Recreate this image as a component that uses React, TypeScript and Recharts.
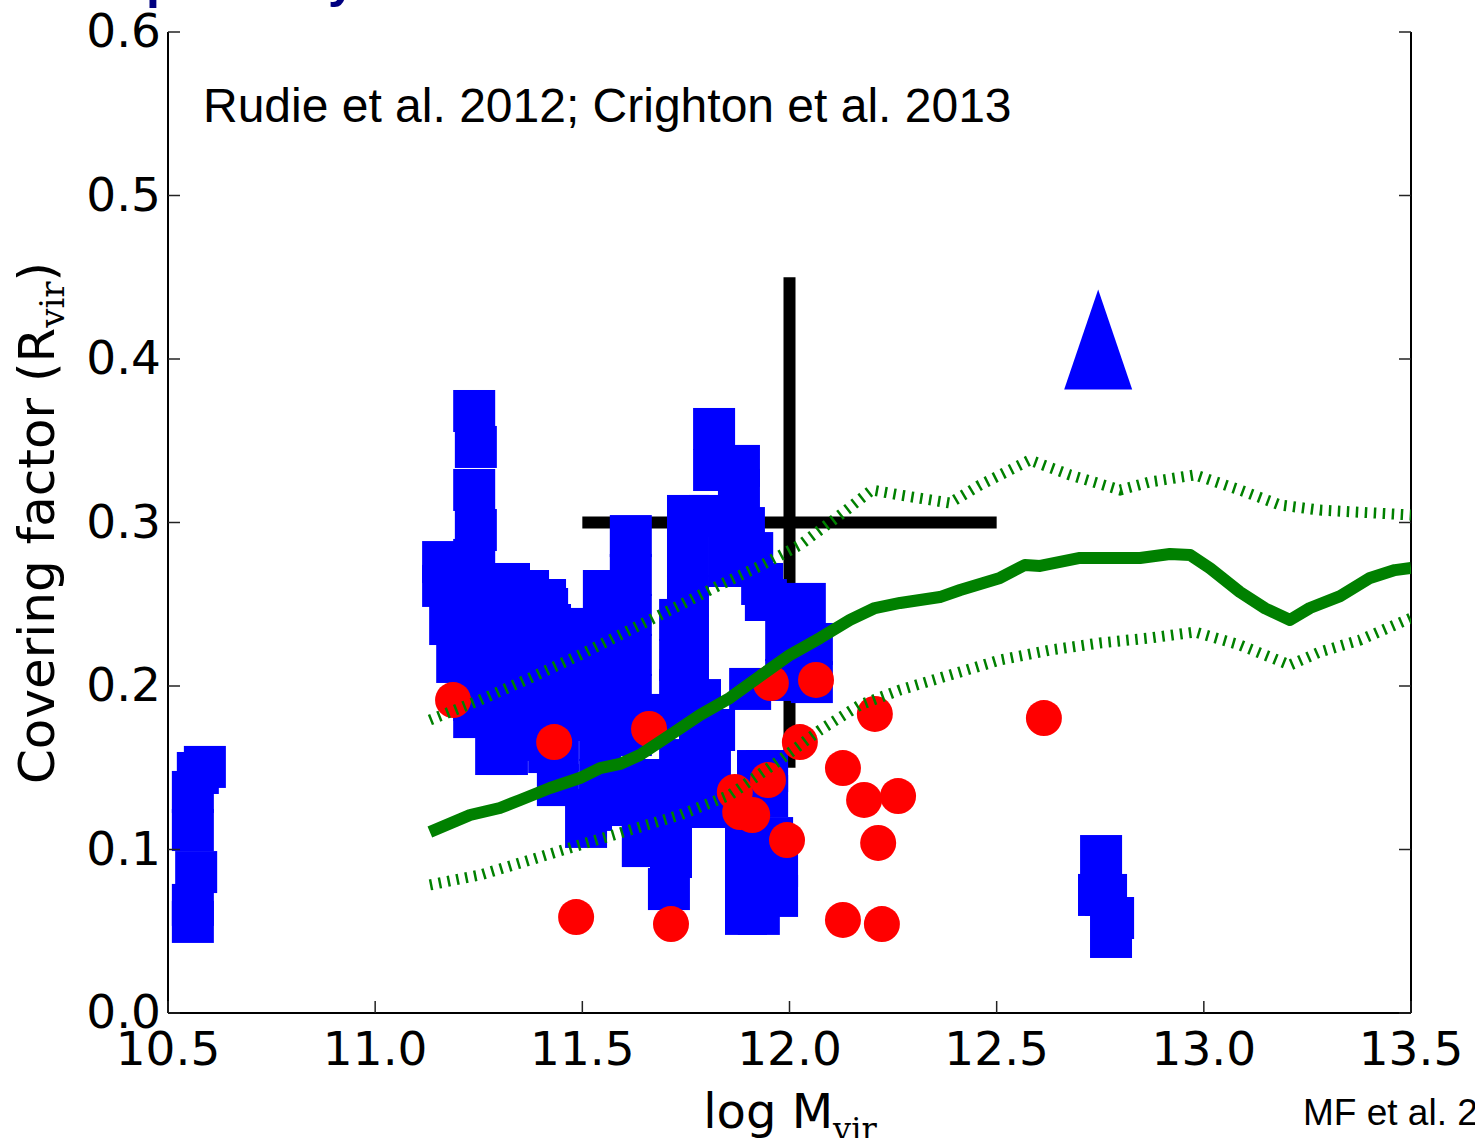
import React from 'react';
import { ComposedChart, XAxis, YAxis, Scatter, Line, ErrorBar, Customized } from 'recharts';

// ---------- data (log Mvir, covering factor) ----------
const X_TICKS = [10.5, 11.0, 11.5, 12.0, 12.5, 13.0, 13.5];
const Y_TICKS = [0.0, 0.1, 0.2, 0.3, 0.4, 0.5, 0.6];

// simulated haloes (blue squares)
const BLUE_SQUARES: [number, number][] = [
  // low-mass column
  [10.589, 0.1505], [10.572, 0.1468], [10.56, 0.1352], [10.56, 0.1119], [10.568, 0.0862], [10.56, 0.0661], [10.56, 0.0557],
  // high-mass group
  [12.752, 0.096], [12.747, 0.0722], [12.764, 0.0722], [12.781, 0.0581], [12.776, 0.0465],
  // group around 11.2-11.45
  [11.239, 0.3682], [11.243, 0.3462], [11.239, 0.3199], [11.243, 0.2954], [11.239, 0.2771],
  [11.164, 0.2758], [11.164, 0.2612], [11.181, 0.2379], [11.198, 0.2147], [11.239, 0.1914], [11.239, 0.181],
  [11.292, 0.1584], [11.318, 0.1584], [11.323, 0.2624], [11.369, 0.2581], [11.415, 0.2471], [11.229, 0.2465],
  [11.277, 0.2281], [11.325, 0.2281], [11.374, 0.2281], [11.422, 0.2281],
  [11.277, 0.2037], [11.325, 0.2037], [11.374, 0.2037], [11.422, 0.2037],
  [11.301, 0.1792], [11.35, 0.1792], [11.398, 0.1792], [11.446, 0.1792], [11.325, 0.167],
  [11.231, 0.2526], [11.289, 0.2526], [11.35, 0.2526], [11.41, 0.2526],
  [11.231, 0.2373], [11.289, 0.2373], [11.35, 0.2373], [11.41, 0.2373], [11.422, 0.2373],
  [11.253, 0.2159], [11.313, 0.2159], [11.374, 0.2159], [11.415, 0.2159],
  [11.289, 0.1914], [11.35, 0.1914], [11.41, 0.1914],
  // group around 11.5-11.7
  [11.617, 0.2917], [11.552, 0.2581], [11.521, 0.2349], [11.617, 0.2679], [11.617, 0.2434], [11.617, 0.219],
  [11.543, 0.2159], [11.543, 0.1914], [11.617, 0.1945], [11.617, 0.17], [11.543, 0.167],
  [11.521, 0.2098], [11.521, 0.1853], [11.569, 0.2281], [11.569, 0.1976], [11.569, 0.1731],
  [11.42, 0.1596], [11.441, 0.1609], [11.441, 0.1394], [11.543, 0.1425], [11.639, 0.1425],
  [11.509, 0.1138], [11.521, 0.1242], [11.646, 0.1021], [11.714, 0.1021], [11.714, 0.0954], [11.709, 0.0758],
  [11.543, 0.1272], [11.639, 0.1272], [11.736, 0.1272], [11.736, 0.1394], [11.7, 0.1823],
  // group around 11.75-12.05
  [11.818, 0.3572], [11.818, 0.3321], [11.878, 0.3346], [11.878, 0.3199], [11.755, 0.304], [11.808, 0.304],
  [11.89, 0.2966], [11.91, 0.2813], [11.934, 0.2624], [11.856, 0.2893], [11.856, 0.2734],
  [11.755, 0.2795], [11.755, 0.255], [11.755, 0.2306], [11.755, 0.2061],
  [11.736, 0.2404], [11.736, 0.2159], [11.736, 0.1976],
  [11.943, 0.2526], [11.992, 0.2281], [12.037, 0.2502], [12.054, 0.2257], [12.054, 0.2024], [11.992, 0.2037],
  [11.905, 0.1982], [11.784, 0.1914], [11.784, 0.1731], [11.818, 0.1731], [11.736, 0.1547], [11.808, 0.1547],
  [11.924, 0.148], [11.946, 0.148], [11.895, 0.1327], [11.946, 0.1327], [11.895, 0.107], [11.958, 0.107],
  [11.895, 0.0899], [11.97, 0.0899], [11.895, 0.0716], [11.97, 0.0716], [11.895, 0.0606], [11.926, 0.0606],
  [11.784, 0.1364], [11.794, 0.126],
];

// observations (red circles)
const RED_POINTS: [number, number][] = [
  [11.188, 0.1914], [11.432, 0.1657], [11.485, 0.0587], [11.661, 0.1737], [11.714, 0.0544],
  [11.868, 0.1352], [11.881, 0.1229], [11.91, 0.1211], [11.948, 0.1425], [11.955, 0.2018],
  [11.994, 0.1058], [12.025, 0.1657], [12.064, 0.2037], [12.129, 0.1498], [12.129, 0.0569],
  [12.18, 0.1303], [12.206, 0.1829], [12.214, 0.104], [12.223, 0.0544], [12.262, 0.1327], [12.614, 0.1804],
];

// lower limit (blue triangle)
const TRIANGLE_POINT = [{ x: 12.745, y: 0.412 }];

// observational point with error bars
const OBS_POINT = [{ x: 12.0, y: 0.3, ex: 0.5, ey: 0.15 }];

// median and scatter (green)
const MEDIAN_X = [11.132, 11.229, 11.301, 11.35, 11.422, 11.494, 11.543, 11.591, 11.639, 11.712, 11.784, 11.856, 11.929, 12.001, 12.074, 12.146, 12.206, 12.267, 12.363, 12.412, 12.508, 12.568, 12.605, 12.701, 12.846, 12.918, 12.967, 13.015, 13.087, 13.148, 13.208, 13.256, 13.329, 13.401, 13.461, 13.5];
const MEDIAN_Y = [0.1107, 0.1211, 0.1254, 0.1303, 0.1376, 0.1437, 0.1498, 0.1523, 0.1578, 0.17, 0.1823, 0.1927, 0.2061, 0.219, 0.2294, 0.2404, 0.2477, 0.2508, 0.2544, 0.2587, 0.2661, 0.274, 0.2734, 0.2783, 0.2783, 0.2807, 0.2801, 0.272, 0.2575, 0.2475, 0.2404, 0.2477, 0.255, 0.2661, 0.2709, 0.2722];
const UPPER_X = [11.132, 11.253, 11.374, 11.494, 11.615, 11.736, 11.832, 11.929, 12.025, 12.122, 12.199, 12.267, 12.387, 12.46, 12.58, 12.677, 12.798, 12.87, 12.979, 13.087, 13.184, 13.28, 13.5];
const UPPER_Y = [0.1792, 0.1914, 0.2049, 0.219, 0.2343, 0.2495, 0.2618, 0.2734, 0.2862, 0.3046, 0.3199, 0.3168, 0.3119, 0.3229, 0.3382, 0.3291, 0.3199, 0.3248, 0.3291, 0.3199, 0.3107, 0.3076, 0.3046];
const LOWER_X = [11.132, 11.253, 11.374, 11.494, 11.615, 11.736, 11.856, 11.977, 12.074, 12.17, 12.267, 12.387, 12.508, 12.629, 12.749, 12.87, 12.979, 13.087, 13.208, 13.28, 13.377, 13.5];
const LOWER_Y = [0.0783, 0.0844, 0.0936, 0.1028, 0.1119, 0.1211, 0.1333, 0.1547, 0.1731, 0.1884, 0.1976, 0.2067, 0.2159, 0.222, 0.2263, 0.2294, 0.233, 0.2251, 0.2128, 0.2208, 0.2281, 0.2416];

const toPts = (xs: number[], ys: number[]) => xs.map((x, i) => ({ x, y: ys[i] }));
const blueData = BLUE_SQUARES.map(([x, y]) => ({ x, y }));
const redData = RED_POINTS.map(([x, y]) => ({ x, y }));
const medianData = toPts(MEDIAN_X, MEDIAN_Y);
const upperData = toPts(UPPER_X, UPPER_Y);
const lowerData = toPts(LOWER_X, LOWER_Y);

const W = 1475;
const H = 1138;
const TICK_FONT = 'DejaVu Sans, sans-serif';
const SANS = 'Liberation Sans, Arial, sans-serif';
const GREEN = '#008000';

const Square = (p: any) => <rect x={p.cx - 21} y={p.cy - 21} width={42} height={42} fill="#0000ff" />;
const Dot = (p: any) => <circle cx={p.cx} cy={p.cy} r={18} fill="#ff0000" />;
const Tri = (p: any) => (
  <polygon points={`${p.cx},${p.cy - 50} ${p.cx - 34},${p.cy + 50} ${p.cx + 34},${p.cy + 50}`} fill="#0000ff" />
);
const NoShape = () => <g />;

const BottomTick = (p: any) => (
  <g>
    <line x1={p.x} y1={p.y} x2={p.x} y2={p.y - 12} stroke="#222" strokeWidth={1.5} />
    <text x={p.x} y={p.y + 52} textAnchor="middle" fontFamily={TICK_FONT} fontSize={47} fill="#000">
      {Number(p.payload.value).toFixed(1)}
    </text>
  </g>
);
const TopTick = (p: any) => (
  <line x1={p.x} y1={p.y} x2={p.x} y2={p.y + 12} stroke="#222" strokeWidth={1.5} />
);
const LeftTick = (p: any) => (
  <g>
    <line x1={p.x} y1={p.y} x2={p.x + 12} y2={p.y} stroke="#222" strokeWidth={1.5} />
    <text x={p.x - 7} y={p.y + 15} textAnchor="end" fontFamily={TICK_FONT} fontSize={47} fill="#000">
      {Number(p.payload.value).toFixed(1)}
    </text>
  </g>
);
const RightTick = (p: any) => (
  <line x1={p.x} y1={p.y} x2={p.x - 12} y2={p.y} stroke="#222" strokeWidth={1.5} />
);

const Annotations = () => (
  <g>
    <text x={146} y={-2} fontFamily={SANS} fontWeight="bold" fontSize={50} fill="#000080">p</text>
    <text x={328} y={-3} fontFamily={SANS} fontWeight="bold" fontSize={50} fill="#000080">y</text>
    <text x={203} y={122} fontFamily={SANS} fontSize={48} fill="#000">Rudie et al. 2012; Crighton et al. 2013</text>
    <text x={790} y={1128} textAnchor="middle" fontFamily={TICK_FONT} fontSize={48} fill="#000">
      log M<tspan dy={12} fontSize={32} fontFamily="DejaVu Serif, serif">vir</tspan>
    </text>
    <text transform="translate(54,523) rotate(-90)" textAnchor="middle" fontFamily={TICK_FONT} fontSize={50} fill="#000">
      Covering factor (R<tspan dy={10} fontSize={34} fontFamily="DejaVu Serif, serif">vir</tspan><tspan dy={-10}>)</tspan>
    </text>
    <text x={1303} y={1125} fontFamily={SANS} fontSize={37} fill="#000">MF et al. 2015</text>
  </g>
);

const axisLine = { stroke: '#000', strokeWidth: 2 };

export default function App() {
  return (
    <div style={{ position: 'absolute', left: 0, top: 0, width: W, height: H, overflow: 'hidden' }}>
      <ComposedChart width={W} height={H} margin={{ top: 32, right: 0, bottom: 0, left: 0 }}>
        <XAxis xAxisId="b" type="number" dataKey="x" orientation="bottom" domain={[10.5, 13.5]} allowDataOverflow
          ticks={X_TICKS} interval={0} height={125} tickSize={0} tickMargin={0} tickLine={false} axisLine={axisLine} tick={BottomTick} />
        <XAxis xAxisId="t" type="number" dataKey="x" orientation="top" domain={[10.5, 13.5]} allowDataOverflow
          ticks={X_TICKS} interval={0} height={0} tickSize={0} tickMargin={0} tickLine={false} axisLine={axisLine} tick={TopTick} />
        <YAxis yAxisId="l" type="number" dataKey="y" orientation="left" domain={[0, 0.6]} allowDataOverflow
          ticks={Y_TICKS} interval={0} width={168} tickSize={0} tickMargin={0} tickLine={false} axisLine={axisLine} tick={LeftTick} />
        <YAxis yAxisId="r" type="number" dataKey="y" orientation="right" domain={[0, 0.6]} allowDataOverflow
          ticks={Y_TICKS} interval={0} width={64} tickSize={0} tickMargin={0} tickLine={false} axisLine={axisLine} tick={RightTick} />

        <Scatter xAxisId="b" yAxisId="l" data={blueData} shape={Square} isAnimationActive={false} />
        <Scatter xAxisId="b" yAxisId="l" data={redData} shape={Dot} isAnimationActive={false} />
        <Scatter xAxisId="b" yAxisId="l" data={OBS_POINT} shape={NoShape} isAnimationActive={false}>
          <ErrorBar dataKey="ex" direction="x" width={0} stroke="#000" strokeWidth={12} isAnimationActive={false} />
          <ErrorBar dataKey="ey" direction="y" width={0} stroke="#000" strokeWidth={12} isAnimationActive={false} />
        </Scatter>
        <Scatter xAxisId="b" yAxisId="l" data={TRIANGLE_POINT} shape={Tri} isAnimationActive={false} />

        <Line xAxisId="b" yAxisId="l" data={upperData} dataKey="y" type="linear" stroke={GREEN} strokeWidth={11}
          strokeDasharray="2.5 6.5" dot={false} activeDot={false} isAnimationActive={false} zIndex={700} />
        <Line xAxisId="b" yAxisId="l" data={lowerData} dataKey="y" type="linear" stroke={GREEN} strokeWidth={11}
          strokeDasharray="2.5 6.5" dot={false} activeDot={false} isAnimationActive={false} zIndex={700} />
        <Line xAxisId="b" yAxisId="l" data={medianData} dataKey="y" type="linear" stroke={GREEN} strokeWidth={12}
          strokeLinejoin="round" dot={false} activeDot={false} isAnimationActive={false} zIndex={700} />

        <Customized component={Annotations} />
      </ComposedChart>
    </div>
  );
}
